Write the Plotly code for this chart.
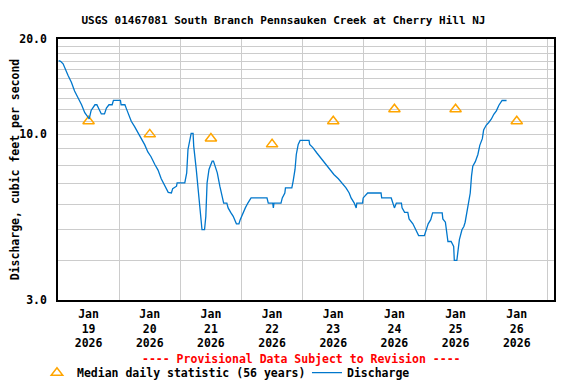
import math
import plotly.graph_objects as go

# ---- data ----
flow_times = [
    "2026-01-19 00:15", "2026-01-19 01:00", "2026-01-19 02:00", "2026-01-19 02:45",
    "2026-01-19 04:00", "2026-01-19 05:15", "2026-01-19 06:30", "2026-01-19 07:45",
    "2026-01-19 09:15", "2026-01-19 10:30", "2026-01-19 11:45", "2026-01-19 12:15",
    "2026-01-19 13:00", "2026-01-19 14:30", "2026-01-19 15:15", "2026-01-19 16:00",
    "2026-01-19 17:00", "2026-01-19 18:15", "2026-01-19 19:00", "2026-01-19 20:00",
    "2026-01-19 21:15", "2026-01-19 21:45", "2026-01-20 00:30", "2026-01-20 00:45",
    "2026-01-20 02:15", "2026-01-20 02:45", "2026-01-20 03:45", "2026-01-20 04:45",
    "2026-01-20 06:00", "2026-01-20 07:30", "2026-01-20 08:45", "2026-01-20 10:00",
    "2026-01-20 11:15", "2026-01-20 12:30", "2026-01-20 14:00", "2026-01-20 15:15",
    "2026-01-20 16:30", "2026-01-20 18:00", "2026-01-20 19:15", "2026-01-20 20:30",
    "2026-01-20 21:00", "2026-01-20 22:30", "2026-01-20 22:45", "2026-01-21 01:45",
    "2026-01-21 02:30", "2026-01-21 03:00", "2026-01-21 03:45", "2026-01-21 04:15",
    "2026-01-21 05:00", "2026-01-21 05:15", "2026-01-21 06:15", "2026-01-21 07:15",
    "2026-01-21 07:45", "2026-01-21 08:30", "2026-01-21 09:30", "2026-01-21 10:00",
    "2026-01-21 10:30", "2026-01-21 11:15", "2026-01-21 11:45", "2026-01-21 12:30",
    "2026-01-21 13:00", "2026-01-21 13:45", "2026-01-21 14:30", "2026-01-21 15:30",
    "2026-01-21 16:15", "2026-01-21 17:00", "2026-01-21 18:15", "2026-01-21 18:45",
    "2026-01-21 19:45", "2026-01-21 20:45", "2026-01-21 22:00", "2026-01-21 23:00",
    "2026-01-21 23:30", "2026-01-22 00:30", "2026-01-22 01:30", "2026-01-22 02:30",
    "2026-01-22 03:45", "2026-01-22 10:00", "2026-01-22 10:30", "2026-01-22 12:15",
    "2026-01-22 12:30", "2026-01-22 12:45", "2026-01-22 15:30", "2026-01-22 16:00",
    "2026-01-22 17:00", "2026-01-22 17:15", "2026-01-22 19:45", "2026-01-22 20:15",
    "2026-01-22 21:00", "2026-01-22 21:30", "2026-01-22 22:15", "2026-01-22 23:00",
    "2026-01-23 02:30", "2026-01-23 02:45", "2026-01-23 04:00", "2026-01-23 05:30",
    "2026-01-23 06:45", "2026-01-23 08:00", "2026-01-23 09:15", "2026-01-23 10:30",
    "2026-01-23 12:15", "2026-01-23 14:00", "2026-01-23 15:30", "2026-01-23 17:00",
    "2026-01-23 18:15", "2026-01-23 19:00", "2026-01-23 20:15", "2026-01-23 21:00",
    "2026-01-23 21:15", "2026-01-23 22:30", "2026-01-23 23:30", "2026-01-23 23:45",
    "2026-01-24 01:30", "2026-01-24 06:45", "2026-01-24 07:00", "2026-01-24 10:45",
    "2026-01-24 11:30", "2026-01-24 12:00", "2026-01-24 12:45", "2026-01-24 14:45",
    "2026-01-24 15:00", "2026-01-24 16:00", "2026-01-24 17:15", "2026-01-24 17:45",
    "2026-01-24 19:15", "2026-01-24 20:30", "2026-01-24 21:30", "2026-01-24 23:45",
    "2026-01-25 00:30", "2026-01-25 01:15", "2026-01-25 02:15", "2026-01-25 03:00",
    "2026-01-25 06:45", "2026-01-25 07:00", "2026-01-25 08:00", "2026-01-25 08:30",
    "2026-01-25 09:00", "2026-01-25 10:15", "2026-01-25 11:15", "2026-01-25 11:30",
    "2026-01-25 12:30", "2026-01-25 13:00", "2026-01-25 13:30", "2026-01-25 14:30",
    "2026-01-25 15:15", "2026-01-25 15:45", "2026-01-25 16:30", "2026-01-25 17:00",
    "2026-01-25 17:45", "2026-01-25 18:15", "2026-01-25 18:45", "2026-01-25 19:45",
    "2026-01-25 20:45", "2026-01-25 21:30", "2026-01-25 22:30", "2026-01-25 23:00",
    "2026-01-26 00:00", "2026-01-26 01:00", "2026-01-26 02:00", "2026-01-26 03:00",
    "2026-01-26 04:00", "2026-01-26 05:00", "2026-01-26 05:45", "2026-01-26 06:15",
    "2026-01-26 08:00",
]
flow_values = [
    17.1, 17.0, 16.7, 16.1,
    15.3, 14.6, 13.7, 13.1,
    12.4, 11.7, 11.4, 11.2,
    11.9, 12.4, 12.4, 12.1,
    11.6, 11.6, 12.1, 12.4,
    12.4, 12.8, 12.8, 12.4,
    12.4, 12.1, 11.6, 11.0,
    10.6, 10.1, 9.64, 9.28,
    8.8, 8.5, 8.03, 7.71,
    7.24, 6.86, 6.56, 6.53,
    6.74, 6.86, 7.03, 7.03,
    7.56, 8.96, 9.64, 10.07,
    10.07, 9.18, 7.75, 6.38,
    5.65, 5.0, 5.0, 5.51,
    7.03, 7.75, 7.94, 8.23,
    8.23, 7.94, 7.56, 6.86,
    6.38, 6.07, 6.07, 5.86,
    5.67, 5.51, 5.22, 5.22,
    5.38, 5.65, 5.86, 6.07,
    6.3, 6.3, 6.07, 6.07,
    5.86, 6.07, 6.07, 6.3,
    6.53, 6.78, 6.78, 7.11,
    7.75, 8.64, 9.3, 9.57,
    9.57, 9.3, 9.08, 8.75,
    8.5, 8.27, 7.97, 7.75,
    7.47, 7.24, 7.03, 6.78,
    6.53, 6.3, 6.07, 5.86,
    6.07, 6.07, 6.07, 6.3,
    6.53, 6.53, 6.3, 6.3,
    6.07, 5.86, 6.07, 6.07,
    5.86, 5.67, 5.67, 5.41,
    5.22, 5.0, 4.79, 4.79,
    5.0, 5.22, 5.38, 5.65,
    5.65, 5.41, 5.28, 5.0,
    4.59, 4.59, 4.43, 4.0,
    4.0, 4.32, 4.65, 5.0,
    5.12, 5.28, 5.72, 6.0,
    6.53, 7.38, 7.94, 8.2,
    8.64, 9.23, 9.69, 10.32,
    10.68, 10.9, 11.16, 11.57,
    11.86, 12.36, 12.6, 12.79,
    12.79,
]

median_times = ["2026-01-19 12:00", "2026-01-20 12:00", "2026-01-21 12:00", "2026-01-22 12:00",
                "2026-01-23 12:00", "2026-01-24 12:00", "2026-01-25 12:00", "2026-01-26 12:00"]
median_values = [11.0, 10.0, 9.7, 9.3, 11.0, 12.0, 12.0, 11.0]

xtick_vals = median_times
xtick_text = ["Jan<br>19<br>2026", "Jan<br>20<br>2026", "Jan<br>21<br>2026", "Jan<br>22<br>2026",
              "Jan<br>23<br>2026", "Jan<br>24<br>2026", "Jan<br>25<br>2026", "Jan<br>26<br>2026"]
xgrid_vals = ["2026-01-20", "2026-01-21", "2026-01-22", "2026-01-23",
              "2026-01-24", "2026-01-25", "2026-01-26", "2026-01-27"]
ytick_vals = [3, 10, 20]
ytick_text = ["3.0", "10.0", "20.0"]
ygrid_vals = [4, 5, 6, 7, 8, 9, 11, 12, 13, 14, 15, 16, 17, 18, 19]

title_text = "USGS 01467081 South Branch Pennsauken Creek at Cherry Hill NJ"
ylabel = "Discharge, cubic feet per second"
note = "---- Provisional Data Subject to Revision ----"

FONT = "DejaVu Sans Mono"
GRID = "#cccccc"
W, H = 568, 376  # page body adds an 8px margin

fig = go.Figure()
fig.add_trace(go.Scatter(
    x=median_times, y=median_values, mode="markers",
    name="Median daily statistic (56 years)",
    marker=dict(symbol="triangle-up-open", size=10, color="#ffa500", line=dict(width=1.5, color="#ffa500")),
))
fig.add_trace(go.Scatter(
    x=flow_times, y=flow_values, mode="lines", name="Discharge",
    line=dict(color="#0077cc", width=1.3),
))

fig.update_layout(
    width=W, height=H,
    margin=dict(l=50, r=22, t=31, b=84, autoexpand=False),
    paper_bgcolor="white", plot_bgcolor="white",
    font=dict(family=FONT, size=11.5, color="black", weight="bold"),
    title=dict(text=title_text, x=0.4546, xref="paper", xanchor="center",
               y=1 - 12 / H, yanchor="middle", yref="container",
               font=dict(family=FONT, size=11, color="black", weight="bold")),
    showlegend=True,
    legend=dict(orientation="h", x=-0.0424, xanchor="left", y=-0.2785, yanchor="middle",
                font=dict(family=FONT, size=11.5, color="black", weight="bold"),
                bgcolor="rgba(0,0,0,0)", itemwidth=30, tracegroupgap=0,
                entrywidth=225, entrywidthmode="pixels"),
)

fig.update_xaxes(
    type="date",
    range=["2026-01-19 00:00", "2026-01-27 02:37"],
    tickmode="array", tickvals=xtick_vals, ticktext=xtick_text,
    showgrid=False, ticks="", zeroline=False, automargin=False,
    showline=True, mirror=True, linecolor="black", linewidth=1.5,
    ticklabelstandoff=2,
    minor=dict(tickmode="array", tickvals=xgrid_vals, showgrid=True, gridcolor=GRID, gridwidth=1, ticks=""),
)
fig.update_yaxes(
    type="log",
    range=[math.log10(3), math.log10(20)],
    tickmode="array", tickvals=ytick_vals, ticktext=ytick_text,
    showgrid=True, gridcolor=GRID, gridwidth=1, ticks="", zeroline=False, automargin=False,
    showline=True, mirror=True, linecolor="black", linewidth=1.5,
    ticklabelstandoff=7,
    title=dict(text=ylabel, standoff=0, font=dict(family=FONT, size=11.5, color="black", weight="bold")),
    minor=dict(tickmode="array", tickvals=ygrid_vals, showgrid=True, gridcolor=GRID, gridwidth=1, ticks=""),
)

fig.add_annotation(
    text=note, xref="paper", yref="paper", x=0.4913, y=-0.226,
    xanchor="center", yanchor="middle", showarrow=False,
    font=dict(family=FONT, size=11.5, color="#ff0000", weight="bold"),
)

fig.write_html("out.html")
